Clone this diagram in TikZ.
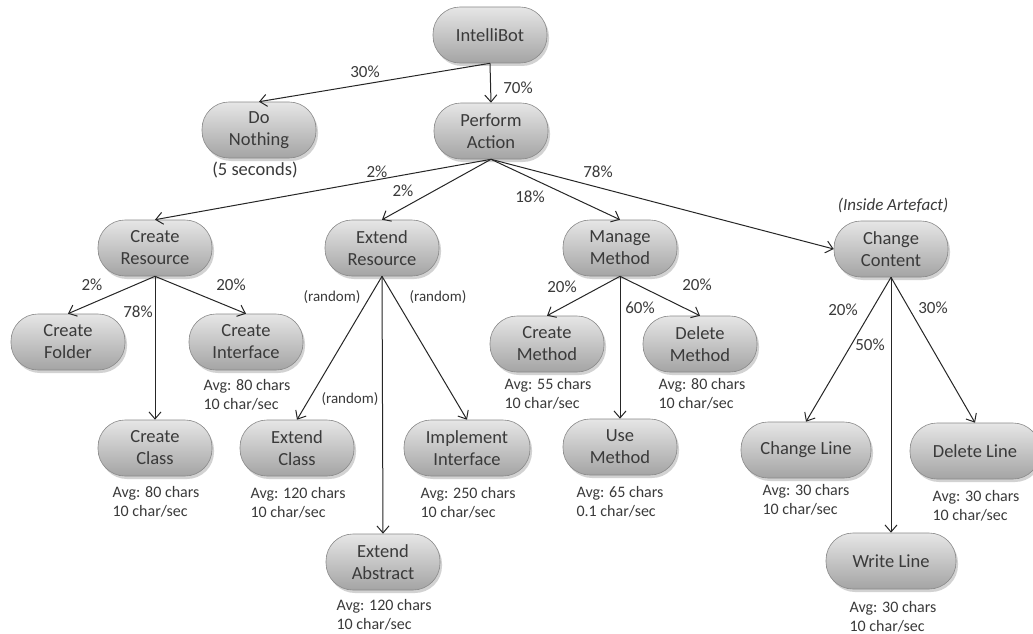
\documentclass[tikz,border=0pt]{standalone}
\usepackage{fontspec}
\setmainfont{Carlito}
\usetikzlibrary{arrows.meta,shadows}
\definecolor{ink}{HTML}{3A3A3A}
\definecolor{boxtop}{HTML}{E6E6E6}
\definecolor{boxmid}{HTML}{D0D0D0}
\definecolor{boxbot}{HTML}{A4A4A4}
\definecolor{boxrim}{HTML}{8A8A8A}
\tikzset{
  pill/.style={draw=boxrim, line width=0.6pt, rounded corners=27pt,
    minimum width=114pt, minimum height=56pt, inner sep=2pt,
    top color=boxtop, middle color=boxmid, bottom color=boxbot,
    drop shadow={opacity=0.35, shadow xshift=2pt, shadow yshift=-3pt},
    align=center, text=ink, font=\fontsize{18.5}{22}\selectfont},
  wide/.style={minimum width=130pt},
  pct/.style={text=ink, inner sep=0pt, font=\fontsize{17}{19}\selectfont},
  rnd/.style={text=ink, inner sep=0pt, font=\fontsize{15}{18}\selectfont},
  note/.style={text=ink, inner sep=0pt, align=left, font=\fontsize{16}{19}\selectfont},
  link/.style={draw=black!85, line width=1pt,
    -{Straight Barb[length=7pt,width=12pt,line width=1pt]}},
}
\begin{document}
\begin{tikzpicture}[x=1pt,y=-1pt]
\fill[white] (0,0) rectangle (1033,634);
\path[use as bounding box] (0,0) rectangle (1033,634);

% top levels
\node[pill] (bot) at (490,35) {IntelliBot};
\node[pill] (nothing) at (259,130) {Do\\Nothing};
\node[pill] (perform) at (491,131) {Perform\\Action};
\node[pct, font=\fontsize{18.5}{20}\selectfont] (secs) at (255,170) {(5 seconds)};
\node[pct] (p30) at (365,72) {30\%};
\node[pct] (p70) at (518,88) {70\%};

% second level
\node[pill] (cres) at (155,248) {Create\\Resource};
\node[pill] (eres) at (382,248) {Extend\\Resource};
\node[pill] (mmeth) at (620,248) {Manage\\Method};
\node[pill] (ccont) at (891,249) {Change\\Content};
\node[pct, font=\fontsize{17}{19}\selectfont\itshape] (inside) at (893,205) {(Inside Artefact)};
\node[pct] (pa) at (377,172) {2\%};
\node[pct] (pb) at (403,191) {2\%};
\node[pct] (pc) at (530,197) {18\%};
\node[pct] (pd) at (598,172) {78\%};

% create resource branch
\node[pill] (cfold) at (68,342) {Create\\Folder};
\node[pill] (cint) at (246,342) {Create\\Interface};
\node[pill] (cclass) at (155,448) {Create\\Class};
\node[pct] (q2) at (92,285) {2\%};
\node[pct] (q78) at (138,312) {78\%};
\node[pct] (q20) at (231,285) {20\%};
\node[note] (ncint) at (247,395) {Avg: 80 chars\\10 char/sec};
\node[note] (ncclass) at (156,502) {Avg: 80 chars\\10 char/sec};

% extend resource branch
\node[pill] (eclass) at (297,448) {Extend\\Class};
\node[pill, minimum width=126pt] (iint) at (467,448) {Implement\\Interface};
\node[pill] (eabs) at (383,562) {Extend\\Abstract};
\node[rnd] (r1) at (332,297) {(random)};
\node[rnd] (r2) at (438,297) {(random)};
\node[rnd] (r3) at (350,399) {(random)};
\node[note] (neclass) at (298,503) {Avg: 120 chars\\10 char/sec};
\node[note] (niint) at (468,503) {Avg: 250 chars\\10 char/sec};
\node[note] (neabs) at (384,615) {Avg: 120 chars\\10 char/sec};

% manage method branch
\node[pill] (cmeth) at (547,344) {Create\\Method};
\node[pill] (dmeth) at (700,344) {Delete\\Method};
\node[pill] (umeth) at (620,447) {Use\\Method};
\node[pct] (m20a) at (562,287) {20\%};
\node[pct] (m60) at (640,308) {60\%};
\node[pct] (m20b) at (697,285) {20\%};
\node[note] (ncmeth) at (548,394) {Avg: 55 chars\\10 char/sec};
\node[note] (ndmeth) at (702,394) {Avg: 80 chars\\10 char/sec};
\node[note] (numeth) at (620,502) {Avg: 65 chars\\0.1 char/sec};

% change content branch
\node[pill, wide] (cline) at (806,450) {Change Line};
\node[pill, wide] (dline) at (975,451) {Delete Line};
\node[pill, wide] (wline) at (891,561) {Write Line};
\node[pct] (c20) at (843,310) {20\%};
\node[pct] (c50) at (870,345) {50\%};
\node[pct] (c30) at (933,308) {30\%};
\node[note] (ncline) at (806,500) {Avg: 30 chars\\10 char/sec};
\node[note] (ndline) at (976,506) {Avg: 30 chars\\10 char/sec};
\node[note] (nwline) at (893,617) {Avg: 30 chars\\10 char/sec};

% connectors
\draw[link] (bot.south) -- (nothing.north);
\draw[link] (bot.south) -- (perform.north);
\draw[link] (perform.south) -- (cres.north);
\draw[link] (perform.south) -- (eres.north);
\draw[link] (perform.south) -- (mmeth.north);
\draw[link] (perform.south) -- (ccont.west);
\draw[link] (cres.south) -- (cfold.north);
\draw[link] (cres.south) -- (cclass.north);
\draw[link] (cres.south) -- (cint.north);
\draw[link] (eres.south) -- (eclass.north);
\draw[link] (eres.south) -- (eabs.north);
\draw[link] (eres.south) -- (iint.north);
\draw[link] (mmeth.south) -- (cmeth.north);
\draw[link] (mmeth.south) -- (umeth.north);
\draw[link] (mmeth.south) -- (dmeth.north);
\draw[link] (ccont.south) -- (cline.north);
\draw[link] (ccont.south) -- (wline.north);
\draw[link] (ccont.south) -- (dline.north);
\end{tikzpicture}
\end{document}
